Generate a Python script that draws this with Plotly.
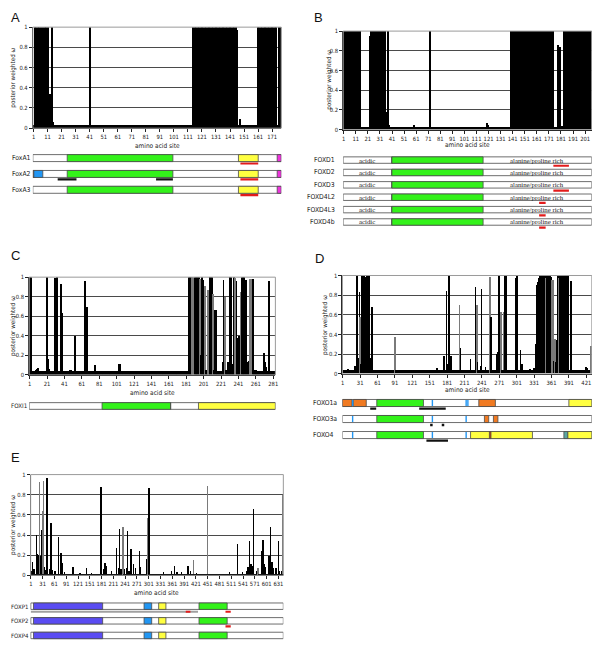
import plotly.graph_objects as go

# The page body keeps an 8px margin, so the figure is drawn 8px in from the window corner.
OX, OY = 8, 8
W, H = 600 - OX, 645 - OY

# ======================= DATA =======================
# ---- Panel A (FoxA) ----
A_n = 177
A_base = 0.03
A_high_runs = [(2, 11), (14, 14), (41, 41), (115, 145), (161, 174), (176, 177)]
A_sites = [7, 13, 15, 146, 148]
A_vals = [0.90, 0.34, 0.06, 0.97, 0.09]
A_ticks = list(range(1, 172, 10))

# ---- Panel B (FoxD) ----
B_n = 206
B_base = 0.027
B_high_runs = [(1, 13), (15, 15), (24, 35), (140, 175), (184, 206)]
B_sites = [14, 23, 36, 37, 38, 39, 59, 73, 120, 121, 143, 179, 180, 181, 182, 183]
B_vals = [0.89, 0.95, 0.07, 0.18, 1.0, 0.05, 0.05, 1.0, 0.07, 0.05, 0.95, 0.86, 0.84, 0.04, 0.04, 0.04]
B_ticks = list(range(1, 202, 10))

# ---- Panel C (FoxI) ----
C_n = 283
C_base = 0.04
C_high_runs = []
C_sites = [1, 2, 3, 9, 10, 11, 21, 22, 24, 30, 33, 37, 38, 47, 48, 49, 53, 65, 66, 67, 76, 104, 105,
           184, 185, 186, 187, 188, 189, 190, 191, 192, 193, 194, 195, 196, 197, 198, 199, 200, 201, 202,
           203, 204, 205, 206, 207, 208, 209, 210, 211, 212, 213, 214, 215, 216,
           223, 224, 225, 226, 227, 228, 229, 230, 231, 232, 233, 234, 235, 236, 237, 238, 239, 240,
           241, 242, 243, 244, 245, 246, 247, 248, 249, 250, 251, 252, 253, 254, 255, 256, 257, 258,
           259, 260, 261, 271, 272, 273, 276]
C_vals = [0.05, 1.0, 1.0, 0.05, 0.06, 0.07, 1.0, 0.16, 0.06, 0.99, 1.0, 0.93, 0.63, 0.05, 0.05, 0.05, 0.40,
          0.96, 0.17, 0.69, 0.10, 0.11, 0.11,
          1.0, 0.40, 1.0, 1.0, 1.0, 1.0, 0.99, 1.0, 1.0, 1.0, 1.0, 1.0, 1.0, 0.98, 0.20, 1.0, 0.97, 0.70,
          0.70, 0.91, 0.05, 0.05, 0.87, 0.87, 1.0, 1.0, 1.0, 1.0, 0.83, 0.05, 0.66, 0.66, 0.05,
          0.13, 0.97, 0.05, 0.80, 0.05, 0.05, 0.13, 0.08, 1.0, 1.0, 1.0, 0.11, 0.11, 1.0, 0.99, 0.96,
          0.96, 0.38, 0.38, 0.40, 0.40, 0.85, 1.0, 1.0, 1.0, 1.0, 0.97, 0.97, 0.13, 0.10, 0.14, 0.98,
          0.98, 0.98, 0.98, 0.98, 0.05, 0.05, 0.05, 0.22, 0.13, 0.08, 0.96]
C_gray = [188, 189, 190, 197, 203, 206, 207, 212, 226, 237, 238, 244, 254, 255, 256, 257]
C_ticks = list(range(1, 282, 20))

# ---- Panel D (FoxO) ----
D_n = 430
D_base = 0.035
D_high_runs = [(26, 27), (35, 38), (43, 47), (342, 342), (344, 345), (347, 347), (349, 349), (351, 351),
               (353, 353), (356, 356), (358, 358), (360, 360), (374, 374), (376, 378), (380, 382),
               (384, 388), (390, 390)]
D_sites = [1, 11, 23, 24, 28, 29, 31, 32, 33, 34, 39, 40, 41, 42, 48, 49, 50, 52, 92, 164, 176, 181,
           183, 184, 185, 188, 203, 205, 222, 231, 233, 234, 240, 241, 248, 256, 257, 268, 269, 270,
           271, 273, 275, 279, 282, 284, 300, 301, 302, 308, 311, 325, 332,
           335, 336, 337, 338, 339, 340, 341, 343, 346, 348, 350, 352, 354, 355, 357, 359, 361, 362,
           363, 364, 365, 366, 367, 368, 369, 370, 371, 372, 373, 375, 379, 383, 389, 395, 421, 423, 430]
D_vals = [0.80, 0.04, 0.07, 0.08, 0.16, 0.15, 0.83, 0.57, 0.10, 0.10, 0.97, 0.97, 0.44, 0.98, 0.16,
          0.16, 0.16, 0.67, 0.37, 0.05, 0.18, 0.84, 0.10, 0.27, 1.0, 0.18, 0.69, 0.26, 0.15, 0.88,
          0.69, 0.12, 0.07, 0.86, 0.06, 0.98, 0.57, 0.20, 0.22, 0.20, 1.0, 0.22, 0.62, 0.62, 1.0, 1.0,
          0.97, 0.98, 1.0, 0.24, 0.10, 0.04, 0.05,
          0.30, 0.88, 0.90, 0.93, 0.95, 0.97, 0.99, 0.98, 0.99, 0.98, 0.99, 0.97, 0.99, 0.99, 0.98,
          0.99, 0.98, 0.95, 0.36, 0.95, 0.36, 0.13, 0.35, 0.35, 0.12, 0.10, 0.34, 0.12, 0.99, 0.97,
          0.99, 0.99, 0.98, 0.94, 0.06, 0.05, 0.28]
D_gray = [32, 92, 203, 233, 256, 275, 279, 343, 352, 362, 363, 364, 365, 367, 368, 375, 379, 430]
D_ticks = list(range(1, 422, 30))

# ---- Panel E (FoxP) ----
E_n = 643
E_base = 0.012
E_high_runs = []
E_sites = [2, 4, 5, 8, 10, 14, 16, 17, 19, 22, 25, 28, 30, 33, 35, 38, 41, 43, 47, 51, 55, 62, 70, 77,
           79, 86, 107, 125, 142, 154, 179, 186, 189, 191, 193, 205, 218, 223, 226, 230, 235, 239,
           243, 246, 250, 255, 262, 266, 277, 279, 296, 298, 301, 338, 358, 365, 372, 384, 400, 407,
           414, 422, 450, 506, 526, 539, 549, 553, 557, 560, 563, 566, 574, 578, 587, 591, 593, 596,
           606, 610, 614, 616, 624, 630, 633, 638, 641]
E_vals = [0.05, 0.14, 0.05, 0.07, 0.05, 0.40, 0.22, 0.22, 0.21, 0.93, 0.20, 0.45, 0.64, 0.94, 0.09,
          0.06, 0.97, 0.36, 0.07, 0.52, 0.06, 0.05, 0.38, 0.23, 0.13, 0.04, 0.09, 0.03, 0.08, 0.03,
          0.88, 0.07, 0.13, 0.10, 0.04, 0.05, 0.28, 0.08, 0.46, 0.07, 0.48, 0.07, 0.08, 0.44, 0.05,
          0.27, 0.12, 0.08, 0.25, 0.09, 0.17, 0.57, 0.87, 0.04, 0.05, 0.10, 0.04, 0.04, 0.10, 0.05,
          0.16, 0.03, 0.89, 0.04, 0.32, 0.04, 0.05, 0.09, 0.34, 0.12, 0.10, 0.66, 0.05, 0.08, 0.25,
          0.35, 0.12, 0.09, 0.20, 0.48, 0.14, 0.08, 0.08, 0.34, 0.05, 0.05, 0.80]
E_gray = [22, 30, 33, 235, 298, 414, 450, 578, 641]
E_ticks = list(range(1, 632, 30))

# ---- Gene diagrams (domain start/end in amino-acid sites) ----
RED, BLK = "#e31b1b", "#111111"
GREEN, YEL, MAG, BLUE, ORG, PUR, TEAL = "#33f21a", "#ffff40", "#ee33dd", "#2196f3", "#f07a22", "#5a4cf2", "#5aa5a0"

A_genes = ["FoxA1", "FoxA2", "FoxA3"]
A_domains = [(0, 25.0, 100.3, GREEN), (0, 147.0, 161.1, YEL), (0, 174.6, 177.5, MAG),
             (1, 0.5, 1.2, ORG), (1, 1.2, 7.6, BLUE), (1, 25.0, 100.3, GREEN), (1, 147.0, 161.1, YEL),
             (1, 174.6, 177.5, MAG),
             (2, 25.0, 100.3, GREEN), (2, 147.0, 161.1, YEL), (2, 174.6, 177.5, MAG)]
A_marks = [(0, 148.4, 161.1, RED), (1, 18.2, 31.6, BLK), (1, 88.3, 100.3, BLK),
           (1, 148.4, 161.1, RED), (2, 148.4, 161.1, RED)]

B_genes = ["FOXD1", "FOXD2", "FOXD3", "FOXD4L2", "FOXD4L3", "FOXD4b"]
B_domains = [(r, 40.75, 116.5, GREEN) for r in range(6)]
B_labels = [("acidic", 20.6), ("alanine/proline rich", 161.5)]
B_marks = [(0, 174.7, 187.6, RED), (2, 174.7, 187.6, RED), (3, 162.9, 168.3, RED),
           (4, 162.9, 168.3, RED), (5, 162.9, 168.3, RED)]

C_genes = ["FOXI1"]
C_domains = [(0, 84.3, 163.1, GREEN), (0, 195.1, 283.5, YEL)]
C_marks = []

D_genes = ["FOXO1a", "FOXO3a", "FOXO4"]
D_domains = [(0, 0.5, 16.9, ORG), (0, 19.3, 41.6, ORG), (0, 59.7, 140.2, GREEN), (0, 235.6, 264.2, ORG),
             (0, 390.9, 430.5, YEL),
             (1, 59.7, 140.2, GREEN), (1, 245.3, 252.7, ORG), (1, 260.8, 268.6, ORG),
             (2, 59.7, 140.2, GREEN), (2, 221.4, 328.1, YEL), (2, 253.9, 256.6, "#c8420e"),
             (2, 382.3, 389.2, TEAL), (2, 389.2, 430.5, YEL)]
D_blue_sites = [(0, 18.1), (0, 155.6), (0, 213.8), (0, 216.8), (1, 18.1), (1, 155.6), (1, 213.8),
                (2, 18.1), (2, 155.6), (2, 213.8)]
D_marks = [(0, 48.4, 58.7, BLK), (0, 132.8, 178.6, BLK), (2, 145.3, 182.5, BLK)]
D_dot_rows = [1, 1]
D_dot_sites = [153.9, 173.9]

E_genes = ["FOXP1", "FOXP2", "FOXP4"]
E_domains = [(r, s, e, c) for r in range(3) for (s, e, c) in
             [(7.8, 183.7, PUR), (289.1, 308.5, BLUE), (326.2, 344.7, YEL), (428.9, 500.6, GREEN)]]
E_marks = [(0, 0.5, 426.3, "#a0a0a0"), (0, 395.2, 407.1, RED), (0, 496.3, 509.7, RED),
           (1, 496.3, 509.7, RED)]


def build(n, base, runs, sites, vals):
    y = [base] * n
    for a, b in runs:
        for s in range(a, b + 1):
            y[s - 1] = 1.0
    for s, v in zip(sites, vals):
        y[s - 1] = v
    return y


def colors(n, gray):
    c = ["#000000"] * n
    for s in gray:
        c[s - 1] = "#7a7a7a"
    return c


# ======================= LAYOUT (window-pixel boxes) =======================
panels = [
    dict(L="A", n=A_n, y=build(A_n, A_base, A_high_runs, A_sites, A_vals), gray=[], ticks=A_ticks,
         box=(32.0, 282.1, 24.3, 126.3), let=(8.5, 15), yt=12, xt=143.5,
         genes=A_genes, dom=A_domains, marks=A_marks, grow=(-0.7, 2.7), gbox=(145.3, 199.7),
         half=0.22, off=0.34, lab=(9, "left"), lsz=6.8),
    dict(L="B", n=B_n, y=build(B_n, B_base, B_high_runs, B_sites, B_vals), gray=[], ticks=B_ticks,
         box=(344.4, 594.7, 28.3, 127.7), let=(313, 15), yt=330.7, xt=142,
         genes=B_genes, dom=B_domains, marks=B_marks, grow=(-0.7, 5.9), gbox=(149.75, 232.25),
         half=0.26, off=0.46, lab=(338, "right"), lsz=6.8),
    dict(L="C", n=C_n, y=build(C_n, C_base, C_high_runs, C_sites, C_vals), gray=C_gray, ticks=C_ticks,
         box=(28.3, 276.2, 276.7, 375.3), let=(8.5, 255), yt=12, xt=392.3,
         genes=C_genes, dom=C_domains, marks=C_marks, grow=(-0.7, 0.7), gbox=(398.0, 415.5),
         half=0.27, off=0.45, lab=(8.5, "left"), lsz=6.2),
    dict(L="D", n=D_n, y=build(D_n, D_base, D_high_runs, D_sites, D_vals), gray=D_gray, ticks=D_ticks,
         box=(343.7, 594.8, 275.0, 374.3), let=(314, 258), yt=325.5, xt=390,
         genes=D_genes, dom=D_domains, marks=D_marks, grow=(-0.7, 2.7), gbox=(392.4, 447.4),
         half=0.22, off=0.35, lab=(312, "left"), lsz=6.8),
    dict(L="E", n=E_n, y=build(E_n, E_base, E_high_runs, E_sites, E_vals), gray=E_gray, ticks=E_ticks,
         box=(29.8, 284.2, 476.0, 577.7), let=(8.5, 459), yt=12, xt=595,
         genes=E_genes, dom=E_domains, marks=E_marks, grow=(-0.6, 2.4), gbox=(600.0, 644.3),
         half=0.22, off=0.38, lab=(8.5, "left"), lsz=6.0),
]

NARROW = "DejaVu Sans Condensed, Liberation Sans Narrow, Arial Narrow, Liberation Sans, Arial"
TICKFONT = dict(family=NARROW, size=5.8, color="#222")

fig = go.Figure()
layout = dict(width=W, height=H, margin=dict(l=0, r=0, t=0, b=0), paper_bgcolor="white",
              plot_bgcolor="white", showlegend=False, bargap=0, bargroupgap=0)
shapes, annots = [], []


def px(p):
    return (p - OX) / W


def py(p):
    return 1 - (p - OY) / H


def xd(p0, p1):
    return [max(0, px(p0)), min(1, px(p1))]


def yd(top, bot):
    return [max(0, py(bot)), min(1, py(top))]


for i, P in enumerate(panels):
    k = i + 1
    g = i + 6
    xs = "" if k == 1 else str(k)
    x0, x1, yt_, yb_ = P["box"]
    n = P["n"]
    fig.add_trace(go.Bar(x=list(range(1, n + 1)), y=P["y"], xaxis="x" + xs, yaxis="y" + xs,
                         marker=dict(color=colors(n, P["gray"]), line=dict(width=0)),
                         hoverinfo="x+y"))
    layout["xaxis" + xs] = dict(domain=xd(x0, x1), anchor="y" + xs, range=[0.5, n + 0.5],
                                tickmode="array", tickvals=P["ticks"], ticktext=[str(t) for t in P["ticks"]],
                                ticks="outside", ticklen=3, tickcolor="#222", tickangle=0,
                                showline=True, linecolor="#222", linewidth=1, showgrid=False,
                                zeroline=False, tickfont=TICKFONT, fixedrange=True)
    layout["yaxis" + xs] = dict(domain=yd(yt_, yb_), anchor="x" + xs, range=[0, 1],
                                tickmode="array", tickvals=[0, 0.2, 0.4, 0.6, 0.8, 1],
                                ticktext=["0", "0.2", "0.4", "0.6", "0.8", "1"],
                                ticks="outside", ticklen=3, tickcolor="#222",
                                showline=True, linecolor="#222", linewidth=1,
                                showgrid=True, gridcolor="#4a4a4a", gridwidth=1,
                                zeroline=False, tickfont=TICKFONT, fixedrange=True)
    shapes.append(dict(type="rect", xref="x" + xs + " domain", yref="y" + xs + " domain",
                       x0=0, x1=1, y0=0, y1=1, line=dict(color="#9a9a9a", width=1), layer="above"))
    annots.append(dict(text=P["L"], x=px(P["let"][0]), y=py(P["let"][1]), xref="paper", yref="paper",
                       showarrow=False, xanchor="left", yanchor="middle",
                       font=dict(family="Liberation Sans, Arial", size=13, color="#111")))
    annots.append(dict(text="posterior weighted ω", textangle=-90, x=px(P["yt"]),
                       y=py((yt_ + yb_) / 2), xref="paper", yref="paper", showarrow=False,
                       xanchor="center", yanchor="middle", font=dict(family=NARROW, size=6.3, color="#222")))
    annots.append(dict(text="amino acid site", x=px((x0 + x1) / 2), y=py(P["xt"] + 1.0),
                       xref="paper", yref="paper", showarrow=False, xanchor="center", yanchor="middle",
                       font=dict(family=NARROW, size=6.5, color="#222")))

    # ---- gene diagram axes ----
    gx, gy = "x" + str(g), "y" + str(g)
    r0, r1 = P["grow"]
    layout["xaxis" + str(g)] = dict(domain=xd(x0, x1), anchor=gy, range=[0.5, n + 0.5], visible=False,
                                    fixedrange=True)
    gt, gb = P["gbox"]
    if gb > 645:
        gb = 645
    layout["yaxis" + str(g)] = dict(domain=yd(gt, gb), anchor=gx, range=[r1, r0], visible=False,
                                    fixedrange=True)
    fig.add_trace(go.Scatter(x=[None], y=[None], xaxis=gx, yaxis=gy, hoverinfo="skip"))
    hh = P["half"]
    labfont = dict(family=NARROW, size=P["lsz"], color="#222")
    for (r, s, e, c) in P["marks"]:
        yy = r + P["off"]
        shapes.append(dict(type="line", xref=gx, yref=gy, x0=s, x1=e, y0=yy, y1=yy,
                           line=dict(color=c, width=2.2)))
    for r, name in enumerate(P["genes"]):
        shapes.append(dict(type="rect", xref=gx, yref=gy, x0=0.5, x1=n + 0.5, y0=r - hh, y1=r + hh,
                           fillcolor="white", line=dict(color="#6e6e6e", width=1)))
        annots.append(dict(text=name, x=px(P["lab"][0]), y=r, xref="paper", yref=gy, showarrow=False,
                           xanchor=P["lab"][1], yanchor="middle", font=labfont))
    for (r, s, e, c) in P["dom"]:
        shapes.append(dict(type="rect", xref=gx, yref=gy, x0=s, x1=e, y0=r - hh, y1=r + hh,
                           fillcolor=c, line=dict(color="#4a4a4a", width=0.8)))
    if P["L"] == "B":
        for r in range(len(P["genes"])):
            shapes.append(dict(type="line", xref=gx, yref=gy, x0=40.75, x1=40.75, y0=r - hh, y1=r + hh,
                               line=dict(color="#4a4a4a", width=0.8)))
            for txt, pos in B_labels:
                annots.append(dict(text=txt, x=pos, y=r, xref=gx, yref=gy, showarrow=False,
                                   xanchor="center", yanchor="middle",
                                   font=dict(family="Liberation Serif, Times New Roman", size=6.8, color="#222")))
    if P["L"] == "C":
        shapes.append(dict(type="line", xref=gx, yref=gy, x0=163.1, x1=163.1, y0=-hh, y1=hh,
                           line=dict(color="#4a4a4a", width=0.8)))
    if P["L"] == "D":
        for (r, s) in D_blue_sites:
            shapes.append(dict(type="rect", xref=gx, yref=gy, x0=s - 1.2, x1=s + 1.2, y0=r - hh + 0.03,
                               y1=r + hh - 0.03, fillcolor=BLUE, line=dict(width=0)))
        fig.add_trace(go.Scatter(x=D_dot_sites, y=[r + 0.37 for r in D_dot_rows], xaxis=gx, yaxis=gy,
                                 mode="markers", marker=dict(symbol="square", size=2.5, color="#111"),
                                 hoverinfo="skip"))
    if P["L"] == "E":
        for r in range(3):
            shapes.append(dict(type="line", xref=gx, yref=gy, x0=0.5, x1=0.5, y0=r - hh, y1=r + hh,
                               line=dict(color="#6e6e6e", width=1)))

layout["shapes"] = shapes
layout["annotations"] = annots
fig.update_layout(**layout)
fig.write_html("out.html")
